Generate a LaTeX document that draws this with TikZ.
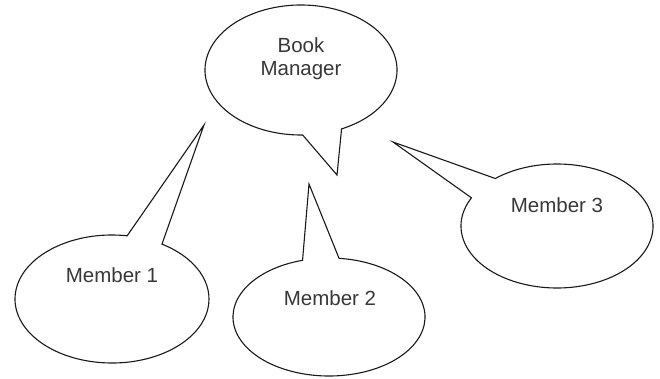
\documentclass[tikz,border=0pt]{standalone}
\usepackage{fontspec}
\setmainfont{Liberation Sans}
\begin{document}
\begin{tikzpicture}[x=1pt,y=1pt,
  bubble/.style={draw=black!90, line width=1.1pt, line join=miter, fill=white},
  lbl/.style={text=black!78, font=\fontsize{20.5}{23}\selectfont, anchor=base, inner sep=0pt}]
\useasboundingbox (0,0) rectangle (660,378);
% centres and pointer tips
\coordinate (bmc) at (301,308);  \coordinate (bmtip) at (337,203);
\coordinate (m1c) at (112,79);   \coordinate (m1tip) at (204,253);
\coordinate (m2c) at (329,61);   \coordinate (m2tip) at (309,194);
\coordinate (m3c) at (557,152);  \coordinate (m3tip) at (393,236);
% bubbles
\draw[bubble] (bmc) ++(-65:96 and 65) arc[start angle=-65, end angle=271, x radius=96, y radius=65] -- (bmtip) -- cycle;
\draw[bubble] (m1c) ++(81:97 and 64) arc[start angle=81, end angle=419, x radius=97, y radius=64] -- (m1tip) -- cycle;
\draw[bubble] (m2c) ++(106:96 and 59) arc[start angle=106, end angle=444, x radius=96, y radius=59] -- (m2tip) -- cycle;
\draw[bubble] (m3c) ++(153:96 and 62) arc[start angle=153, end angle=490, x radius=96, y radius=62] -- (m3tip) -- cycle;
% labels
\node[lbl] (book) at (301,325) {Book};
\node[lbl] (mgr) at (301,302) {Manager};
\node[lbl] (m1) at (112,96) {Member 1};
\node[lbl] (m2) at (330,73) {Member 2};
\node[lbl] (m3) at (557,166) {Member 3};
\end{tikzpicture}
\end{document}
